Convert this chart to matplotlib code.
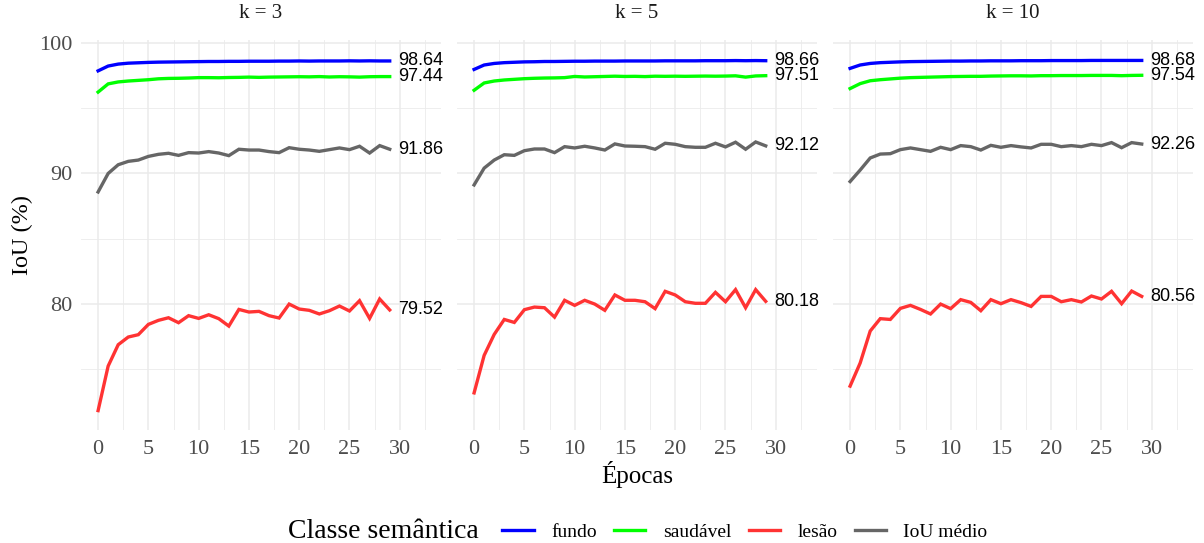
import numpy as np
import matplotlib.pyplot as plt
from matplotlib.lines import Line2D

# epochs and fold sizes
epocas = np.arange(30)
ks = [3, 5, 10]

# IoU per class (k = 3, 5, 10)
fundo_k3 = [97.88, 98.25, 98.40, 98.47, 98.50, 98.53, 98.55, 98.56, 98.57, 98.58,
            98.59, 98.60, 98.60, 98.61, 98.61, 98.62, 98.62, 98.62, 98.63, 98.63,
            98.64, 98.63, 98.64, 98.64, 98.64, 98.65, 98.64, 98.65, 98.64, 98.64]
saudavel_k3 = [96.25, 96.88, 97.03, 97.10, 97.15, 97.20, 97.27, 97.30, 97.31, 97.33,
               97.36, 97.36, 97.35, 97.37, 97.38, 97.40, 97.38, 97.40, 97.41, 97.42,
               97.43, 97.42, 97.44, 97.41, 97.43, 97.42, 97.40, 97.43, 97.44, 97.44]
lesao_k3 = [71.79, 75.21, 76.85, 77.44, 77.62, 78.41, 78.72, 78.92, 78.54, 79.08,
            78.87, 79.15, 78.85, 78.28, 79.56, 79.36, 79.41, 79.08, 78.90, 79.97,
            79.59, 79.49, 79.21, 79.46, 79.82, 79.44, 80.23, 78.87, 80.36, 79.52]
media_k3 = [88.58, 90.00, 90.67, 90.93, 91.03, 91.31, 91.47, 91.55, 91.39, 91.60,
            91.57, 91.68, 91.57, 91.37, 91.86, 91.80, 91.80, 91.68, 91.60, 91.98,
            91.86, 91.80, 91.70, 91.83, 91.96, 91.83, 92.09, 91.57, 92.14, 91.86]

fundo_k5 = [97.99, 98.33, 98.45, 98.51, 98.54, 98.57, 98.58, 98.60, 98.60, 98.61,
            98.62, 98.62, 98.63, 98.63, 98.63, 98.64, 98.64, 98.64, 98.64, 98.65,
            98.65, 98.65, 98.65, 98.66, 98.66, 98.66, 98.67, 98.66, 98.67, 98.66]
saudavel_k5 = [96.39, 96.95, 97.10, 97.18, 97.23, 97.28, 97.31, 97.33, 97.34, 97.36,
               97.45, 97.41, 97.43, 97.45, 97.47, 97.45, 97.46, 97.44, 97.47, 97.46,
               97.47, 97.46, 97.47, 97.48, 97.47, 97.48, 97.50, 97.40, 97.49, 97.51]
lesao_k5 = [73.15, 76.03, 77.64, 78.79, 78.56, 79.54, 79.74, 79.69, 78.97, 80.26,
            79.87, 80.26, 79.97, 79.49, 80.67, 80.26, 80.26, 80.15, 79.62, 80.95,
            80.67, 80.15, 80.03, 80.03, 80.87, 80.15, 81.08, 79.69, 81.08, 80.18]
media_k5 = [89.12, 90.41, 91.03, 91.44, 91.39, 91.75, 91.88, 91.88, 91.60, 92.06,
            91.96, 92.09, 91.96, 91.80, 92.27, 92.11, 92.09, 92.06, 91.86, 92.32,
            92.24, 92.06, 92.01, 92.01, 92.32, 92.04, 92.40, 91.86, 92.42, 92.12]

fundo_k10 = [98.07, 98.33, 98.45, 98.51, 98.54, 98.57, 98.59, 98.60, 98.61, 98.62,
             98.63, 98.63, 98.64, 98.64, 98.65, 98.65, 98.65, 98.66, 98.66, 98.66,
             98.67, 98.67, 98.67, 98.67, 98.68, 98.68, 98.68, 98.68, 98.68, 98.68]
saudavel_k10 = [96.52, 96.90, 97.12, 97.20, 97.26, 97.32, 97.36, 97.38, 97.40, 97.42,
                97.44, 97.45, 97.46, 97.46, 97.48, 97.49, 97.50, 97.50, 97.49, 97.51,
                97.51, 97.52, 97.52, 97.52, 97.53, 97.53, 97.53, 97.51, 97.53, 97.54]
lesao_k10 = [73.67, 75.44, 77.90, 78.85, 78.79, 79.64, 79.87, 79.56, 79.21, 79.97,
             79.62, 80.31, 80.10, 79.46, 80.31, 80.00, 80.31, 80.08, 79.79, 80.56,
             80.56, 80.15, 80.31, 80.13, 80.59, 80.36, 80.95, 80.00, 80.97, 80.56]
media_k10 = [89.38, 90.26, 91.19, 91.49, 91.52, 91.83, 91.96, 91.83, 91.70, 92.01,
             91.83, 92.14, 92.06, 91.80, 92.16, 92.01, 92.14, 92.04, 91.96, 92.24,
             92.24, 92.06, 92.14, 92.06, 92.24, 92.14, 92.37, 91.98, 92.37, 92.26]

classes = ["fundo", "saudável", "lesão", "IoU médio"]
cores = ["#0000FF", "#00FF00", "#FF3333", "#666666"]
series = {
    3: [fundo_k3, saudavel_k3, lesao_k3, media_k3],
    5: [fundo_k5, saudavel_k5, lesao_k5, media_k5],
    10: [fundo_k10, saudavel_k10, lesao_k10, media_k10],
}

serif = "Liberation Serif"
sans = "Liberation Sans"

fig = plt.figure(figsize=(12.04, 5.43), dpi=100)
W, H = 1204, 543
lefts = [81, 457, 833]
pw = 360
top, bot = 40, 430

for i, k in enumerate(ks):
    ax = fig.add_axes([lefts[i] / W, 1 - bot / H, pw / W, (bot - top) / H])
    for vals, cor in zip(series[k], cores):
        ax.plot(epocas, vals, color=cor, lw=2.4, solid_joinstyle="miter")
        ax.text(epocas[-1] + 0.8, vals[-1], f"{vals[-1]:.2f}", fontsize=13,
                family=sans, va="center", ha="left", color="black")
    ax.set_xlim(-1.7, 34.1)
    ax.set_ylim(70.3, 100.25)
    ax.set_xticks([0, 5, 10, 15, 20, 25, 30])
    ax.set_xticks([2.5, 7.5, 12.5, 17.5, 22.5, 27.5, 32.5], minor=True)
    ax.set_yticks([80, 90, 100])
    ax.set_yticks([75, 85, 95], minor=True)
    ax.grid(which="major", color="#ebebeb", lw=1.1)
    ax.grid(which="minor", color="#ebebeb", lw=0.6)
    ax.set_axisbelow(True)
    for s in ax.spines.values():
        s.set_visible(False)
    ax.tick_params(which="both", length=0, labelsize=16, labelcolor="#4d4d4d")
    ax.tick_params(axis="x", pad=7)
    ax.tick_params(axis="y", pad=6)
    for lab in ax.get_xticklabels() + ax.get_yticklabels():
        lab.set_family(serif)
    if i > 0:
        ax.set_yticklabels([])
    ax.text(0.5, 1 + 26 / 390, f"k = {k}", transform=ax.transAxes, family=serif,
            fontsize=15, color="#1a1a1a", ha="center", va="center")

fig.text(637 / W, 1 - 475 / H, "Épocas", family=serif, fontsize=18,
         ha="center", va="center")
fig.text(22 / W, 1 - 235 / H, "IoU (%)", family=serif, fontsize=17.5,
         ha="center", va="center", rotation=90)

handles = [Line2D([], [], color=c, lw=2.4) for c in cores]
fig.text(288 / W, 1 - 532 / H, "Classe semântica", family=serif, fontsize=20,
         ha="left", va="center")
fig.legend(handles, classes, loc="center", bbox_to_anchor=(745 / W, 1 - 532 / H),
           ncol=4, frameon=False, prop={"family": serif, "size": 14},
           handlelength=1.6, handletextpad=0.9, columnspacing=0.9)

fig.savefig("out.png", dpi=100)
